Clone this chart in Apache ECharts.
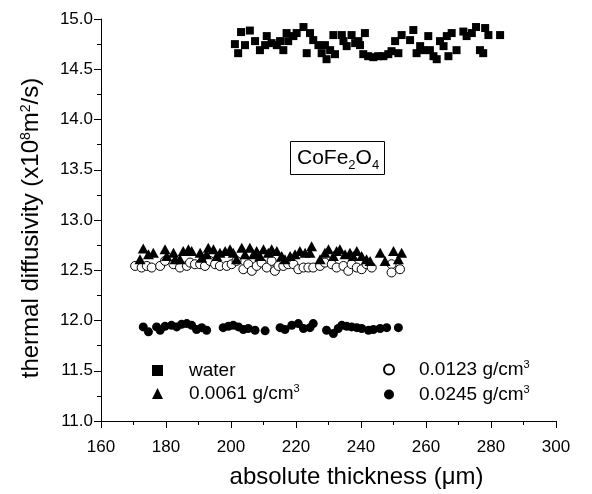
<!DOCTYPE html>
<html>
<head>
<meta charset="utf-8">
<script src="https://cdn.jsdelivr.net/npm/echarts@6/dist/echarts.min.js"></script>
<style>
  html, body { margin: 0; padding: 0; background: #fff; }
  #chart { width: 592px; height: 494px; }
</style>
</head>
<body>
<div id="chart"></div>
<script>
// Thermal diffusivity vs. absolute thickness, CoFe2O4 ferrofluids
var seriesNames = ['water', '0.0061 g/cm3', '0.0123 g/cm3', '0.0245 g/cm3'];

var waterPts = [
  [201.2,14.75],[202.2,14.66],[203.1,14.87],[204.3,14.74],[205.8,14.885],[207.4,14.78],[208.9,14.69],
  [210.5,14.74],[211.0,14.83],[212.5,14.76],[214.1,14.74],[215.1,14.78],[216.1,14.69],[217.1,14.86],
  [217.6,14.78],[219.2,14.83],[220.2,14.86],[222.3,14.92],[223.3,14.66],[224.3,14.86],[225.3,14.79],
  [226.9,14.74],[227.9,14.66],[228.9,14.74],[229.4,14.60],[230.5,14.69],[231.5,14.84],[232.0,14.65],
  [234.1,14.84],[234.6,14.78],[235.6,14.73],[237.1,14.84],[238.2,14.76],[239.2,14.78],[239.7,14.74],
  [240.7,14.65],[241.2,14.86],[242.2,14.63],[243.8,14.62],[245.3,14.63],[246.9,14.63],[248.4,14.65],
  [249.4,14.68],[250.5,14.78],[251.5,14.66],[252.5,14.84],[255.1,14.79],[256.1,14.89],[257.1,14.66],
  [258.2,14.73],[259.2,14.69],[260.7,14.83],[261.2,14.69],[262.3,14.63],[263.3,14.60],[264.3,14.78],
  [265.4,14.73],[266.4,14.83],[266.9,14.63],[267.9,14.86],[269.4,14.69],[271.5,14.875],[272.5,14.83],
  [274.1,14.86],[275.4,14.92],[276.6,14.69],[277.6,14.66],[278.2,14.91],[279.2,14.84],[282.8,14.84]
];

var c0061Pts = [
  [172.0,12.609],[173.0,12.717],[174.6,12.658],[176.1,12.675],[179.7,12.708],[180.2,12.642],
  [182.3,12.675],[182.8,12.609],[184.3,12.609],[185.3,12.691],[186.9,12.708],[187.9,12.691],
  [190.5,12.675],[191.0,12.625],[192.5,12.658],[193.0,12.724],[194.6,12.708],[195.6,12.642],
  [196.6,12.675],[198.2,12.691],[199.7,12.708],[200.7,12.675],[201.7,12.609],[203.3,12.724],
  [204.3,12.658],[205.8,12.724],[206.9,12.658],[207.9,12.691],[208.9,12.642],[210.0,12.708],
  [211.5,12.675],[212.5,12.708],[214.1,12.691],[215.6,12.642],[216.6,12.609],[218.2,12.642],
  [219.7,12.658],[221.2,12.691],[222.8,12.675],[224.3,12.675],[224.8,12.740],[227.4,12.609],
  [228.9,12.675],[230.0,12.708],[231.5,12.642],[232.5,12.691],[233.5,12.708],[235.1,12.658],
  [236.6,12.675],[237.6,12.642],[238.7,12.691],[240.2,12.642],[241.7,12.609],[242.8,12.593],
  [245.9,12.675],[247.4,12.593],[250.0,12.691],[251.5,12.609],[252.5,12.675]
];

var c0123Pts = [
  [170.5,12.543],[172.5,12.527],[174.1,12.543],[175.6,12.527],[178.2,12.543],[179.7,12.593],
  [182.3,12.560],[184.3,12.527],[186.4,12.543],[187.4,12.576],[188.9,12.560],[190.5,12.560],
  [192.0,12.543],[193.5,12.593],[195.1,12.560],[196.6,12.543],[198.7,12.543],[200.2,12.560],
  [201.7,12.593],[203.8,12.510],[205.3,12.560],[206.4,12.494],[207.9,12.543],[209.4,12.576],
  [211.0,12.527],[212.5,12.593],[213.5,12.494],[214.6,12.543],[216.1,12.543],[217.6,12.560],
  [219.2,12.560],[220.7,12.510],[222.3,12.527],[223.8,12.527],[225.3,12.527],[227.4,12.543],
  [228.9,12.576],[231.0,12.560],[232.5,12.527],[234.6,12.543],[236.1,12.494],[237.1,12.560],
  [238.7,12.527],[240.2,12.510],[241.7,12.560],[243.3,12.527],[249.4,12.560],[249.4,12.478],
  [252.0,12.510]
];

var c0245Pts = [
  [173.0,11.936],[174.6,11.887],[177.1,11.936],[178.2,11.903],[179.7,11.942],[181.7,11.952],
  [183.3,11.936],[184.8,11.962],[186.4,11.969],[187.9,11.952],[189.4,11.910],[191.0,11.929],
  [192.5,11.903],[197.6,11.929],[199.2,11.942],[200.7,11.952],[202.3,11.936],[203.8,11.910],
  [205.3,11.920],[207.4,11.903],[210.5,11.897],[215.1,11.929],[216.6,11.910],[218.7,11.952],
  [220.7,11.969],[222.3,11.920],[224.3,11.929],[225.3,11.969],[229.4,11.903],[231.5,11.870],
  [233.0,11.920],[234.1,11.952],[235.6,11.942],[237.1,11.936],[238.7,11.929],[240.2,11.920],
  [242.3,11.903],[243.8,11.910],[245.9,11.920],[247.9,11.929],[251.5,11.929]
];

var xTicks = { min: 160, max: 300, step: 20 };
var yTicks = { min: 11.0, max: 15.0, step: 0.5 };

var FONT = 'Liberation Sans, Arial, sans-serif';
var supStyle = { fontSize: 11, verticalAlign: 'top', lineHeight: 12, fontFamily: FONT, color: '#000' };

function legendLabel(name) {
  return name.replace(/cm3$/, 'cm{sup|3}');
}

var chart = echarts.init(document.getElementById('chart'), null, { renderer: 'canvas' });

var option = {
  backgroundColor: '#fff',
  animation: false,
  textStyle: { fontFamily: FONT, color: '#000' },
  grid: { left: 101, right: 36, top: 19, bottom: 69 },
  title: {
    text: 'CoFe{sub|2}O{sub|4}',
    left: 290,
    top: 141,
    padding: [4, 6, 3, 7],
    borderColor: '#000',
    borderWidth: 1,
    textStyle: {
      fontFamily: FONT, fontSize: 21, fontWeight: 'normal', color: '#000', lineHeight: 27,
      rich: { sub: { fontSize: 13, verticalAlign: 'bottom', lineHeight: 14, fontFamily: FONT, color: '#000' } }
    }
  },
  legend: [
    {
      data: [seriesNames[0], seriesNames[1]],
      orient: 'vertical', left: 152, top: 360, padding: 0,
      itemWidth: 11, itemHeight: 11, itemGap: 2,
      formatter: legendLabel,
      textStyle: { fontFamily: FONT, fontSize: 19, color: '#000', padding: [0, 0, 0, 21], lineHeight: 21, rich: { sup: supStyle } }
    },
    {
      data: [seriesNames[2], seriesNames[3]],
      orient: 'vertical', left: 383, top: 359, padding: 0,
      itemWidth: 10, itemHeight: 10, itemGap: 4,
      formatter: legendLabel,
      textStyle: { fontFamily: FONT, fontSize: 19, color: '#000', padding: [0, 0, 0, 20], lineHeight: 21, rich: { sup: supStyle } }
    }
  ],
  xAxis: {
    type: 'value',
    min: xTicks.min, max: xTicks.max, interval: xTicks.step,
    name: 'absolute thickness (\u03bcm)',
    nameLocation: 'middle', nameGap: 44,
    nameTextStyle: { fontFamily: FONT, fontSize: 24, color: '#000', padding: [0, 0, 0, 56] },
    axisLine: { show: true, onZero: false, lineStyle: { color: '#000', width: 1 } },
    axisTick: { show: true, inside: false, length: 7, lineStyle: { color: '#000' } },
    minorTick: { show: true, splitNumber: 2, length: 4, lineStyle: { color: '#000' } },
    axisLabel: { fontFamily: FONT, fontSize: 17, color: '#000', margin: 18 },
    splitLine: { show: false }
  },
  yAxis: {
    type: 'value',
    min: yTicks.min, max: yTicks.max, interval: yTicks.step,
    name: 'thermal diffusivity (x10{sup|8}m{sup|2}/s)',
    nameLocation: 'middle', nameGap: 58, nameRotate: 90,
    nameTextStyle: { fontFamily: FONT, fontSize: 24, color: '#000', padding: [0, 16, 0, 0], rich: { sup: { fontSize: 14, verticalAlign: 'top', lineHeight: 14, fontFamily: FONT, color: '#000' } } },
    axisLine: { show: true, onZero: false, lineStyle: { color: '#000', width: 1 } },
    axisTick: { show: true, inside: false, length: 7, lineStyle: { color: '#000' } },
    minorTick: { show: true, splitNumber: 2, length: 4, lineStyle: { color: '#000' } },
    axisLabel: { fontFamily: FONT, fontSize: 17, color: '#000', margin: 8, formatter: function (v) { return v.toFixed(1); } },
    splitLine: { show: false }
  },
  series: [
    { name: seriesNames[0], type: 'scatter', data: waterPts, symbol: 'rect', symbolSize: 8,
      itemStyle: { color: '#000', opacity: 1 } },
    { name: seriesNames[2], type: 'scatter', data: c0123Pts, symbol: 'circle', symbolSize: 9,
      itemStyle: { color: '#fff', borderColor: '#000', borderWidth: 1, opacity: 1 } },
    { name: seriesNames[1], type: 'scatter', data: c0061Pts, symbol: 'triangle', symbolSize: [11, 10],
      itemStyle: { color: '#000', opacity: 1 } },
    { name: seriesNames[3], type: 'scatter', data: c0245Pts, symbol: 'circle', symbolSize: 9,
      itemStyle: { color: '#000', opacity: 1 } }
  ]
};

chart.setOption(option);
</script>
</body>
</html>
